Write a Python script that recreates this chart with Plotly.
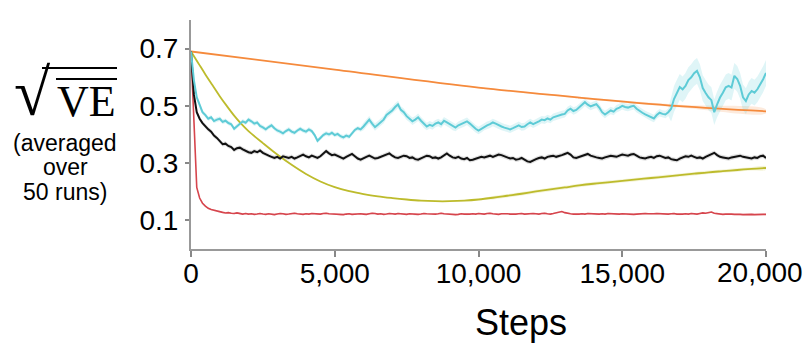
import plotly.graph_objects as go

# ---------------- data ----------------
steps = list(range(0, 20001, 100))

cyan_vals = [
    0.690, 0.590, 0.530, 0.500, 0.478, 0.468, 0.455, 0.460, 0.447, 0.452,
    0.455, 0.444, 0.448, 0.440, 0.436, 0.420, 0.428, 0.438, 0.446, 0.441,
    0.452, 0.446, 0.438, 0.442, 0.430, 0.425, 0.418, 0.426, 0.432, 0.422,
    0.414, 0.410, 0.404, 0.412, 0.418, 0.410, 0.406, 0.414, 0.420, 0.414,
    0.410, 0.418, 0.412, 0.398, 0.378, 0.388, 0.398, 0.404, 0.400, 0.406,
    0.398, 0.402, 0.394, 0.390, 0.396, 0.392, 0.404, 0.416, 0.422, 0.418,
    0.428, 0.440, 0.452, 0.438, 0.426, 0.434, 0.444, 0.452, 0.468, 0.476,
    0.484, 0.496, 0.505, 0.486, 0.478, 0.464, 0.456, 0.446, 0.452, 0.460,
    0.448, 0.436, 0.428, 0.434, 0.430, 0.438, 0.442, 0.436, 0.448, 0.442,
    0.436, 0.428, 0.424, 0.432, 0.436, 0.440, 0.446, 0.438, 0.428, 0.420,
    0.414, 0.420, 0.428, 0.432, 0.436, 0.442, 0.438, 0.432, 0.428, 0.424,
    0.422, 0.418, 0.422, 0.428, 0.432, 0.426, 0.428, 0.436, 0.442, 0.436,
    0.440, 0.446, 0.452, 0.450, 0.456, 0.452, 0.460, 0.464, 0.466, 0.470,
    0.472, 0.484, 0.490, 0.482, 0.486, 0.494, 0.502, 0.513, 0.504, 0.498,
    0.502, 0.506, 0.494, 0.478, 0.470, 0.478, 0.484, 0.480, 0.490, 0.494,
    0.500, 0.496, 0.494, 0.498, 0.500, 0.490, 0.482, 0.476, 0.470, 0.466,
    0.460, 0.456, 0.468, 0.476, 0.472, 0.470, 0.478, 0.490, 0.524, 0.546,
    0.566, 0.558, 0.570, 0.590, 0.600, 0.614, 0.622, 0.600, 0.562, 0.545,
    0.530, 0.520, 0.478, 0.505, 0.529, 0.546, 0.565, 0.570, 0.564, 0.605,
    0.594, 0.570, 0.530, 0.517, 0.540, 0.552, 0.546, 0.558, 0.575, 0.593,
    0.615,
]
cyan_err = [0.008] * 60 + [0.013] * 107 + [0.045] * 34

black_vals = [
    0.690, 0.540, 0.478, 0.455, 0.440, 0.428, 0.418, 0.410, 0.396, 0.388,
    0.378, 0.366, 0.368, 0.360, 0.356, 0.346, 0.352, 0.354, 0.348, 0.342,
    0.338, 0.336, 0.342, 0.338, 0.344, 0.336, 0.330, 0.326, 0.322, 0.318,
    0.322, 0.316, 0.324, 0.320, 0.318, 0.322, 0.316, 0.320, 0.326, 0.330,
    0.324, 0.320, 0.326, 0.322, 0.318, 0.324, 0.332, 0.342, 0.334, 0.328,
    0.330, 0.326, 0.320, 0.316, 0.322, 0.328, 0.332, 0.324, 0.316, 0.312,
    0.318, 0.322, 0.326, 0.320, 0.316, 0.318, 0.322, 0.326, 0.330, 0.334,
    0.326, 0.320, 0.318, 0.322, 0.326, 0.324, 0.318, 0.320, 0.314, 0.312,
    0.316, 0.322, 0.326, 0.324, 0.318, 0.320, 0.316, 0.320, 0.328, 0.334,
    0.326, 0.320, 0.318, 0.322, 0.316, 0.314, 0.318, 0.310, 0.312, 0.316,
    0.318, 0.322, 0.320, 0.324, 0.326, 0.322, 0.326, 0.330, 0.328, 0.324,
    0.320, 0.316, 0.318, 0.312, 0.314, 0.318, 0.312, 0.306, 0.304, 0.310,
    0.314, 0.318, 0.320, 0.316, 0.322, 0.324, 0.326, 0.322, 0.324, 0.328,
    0.332, 0.336, 0.330, 0.320, 0.318, 0.322, 0.326, 0.330, 0.332, 0.326,
    0.322, 0.320, 0.318, 0.316, 0.320, 0.322, 0.326, 0.324, 0.322, 0.326,
    0.330, 0.328, 0.326, 0.330, 0.332, 0.326, 0.320, 0.318, 0.316, 0.320,
    0.322, 0.318, 0.324, 0.326, 0.322, 0.318, 0.320, 0.314, 0.312, 0.310,
    0.316, 0.320, 0.324, 0.322, 0.326, 0.322, 0.318, 0.320, 0.316, 0.322,
    0.326, 0.330, 0.336, 0.328, 0.322, 0.320, 0.318, 0.316, 0.320, 0.322,
    0.324, 0.326, 0.322, 0.320, 0.318, 0.316, 0.320, 0.318, 0.324, 0.326,
    0.318,
]
black_err = [0.008] * 201

red_vals = [
    0.690, 0.420, 0.215, 0.178, 0.160, 0.150, 0.142, 0.138, 0.135, 0.132,
    0.130, 0.128, 0.126, 0.127, 0.125, 0.124, 0.126, 0.123, 0.122, 0.124,
    0.122, 0.123, 0.121, 0.122, 0.124, 0.122, 0.121, 0.123, 0.122, 0.120,
    0.122, 0.124, 0.123, 0.121, 0.122, 0.123, 0.125, 0.123, 0.122, 0.121,
    0.123, 0.122, 0.124, 0.123, 0.121, 0.122, 0.124, 0.125, 0.123, 0.122,
    0.121, 0.122, 0.119, 0.120, 0.122, 0.123, 0.121, 0.122, 0.124, 0.123,
    0.122, 0.121, 0.123, 0.125, 0.124, 0.122, 0.123, 0.121, 0.122, 0.124,
    0.123, 0.122, 0.124, 0.123, 0.122, 0.121, 0.123, 0.122, 0.120, 0.121,
    0.122, 0.124, 0.123, 0.122, 0.121, 0.122, 0.123, 0.125, 0.123, 0.122,
    0.121, 0.122, 0.120, 0.121, 0.123, 0.122, 0.121, 0.122, 0.123, 0.122,
    0.124, 0.123, 0.122, 0.124, 0.125, 0.123, 0.122, 0.121, 0.123, 0.124,
    0.123, 0.122, 0.121, 0.122, 0.123, 0.124, 0.122, 0.123, 0.125, 0.124,
    0.123, 0.122, 0.124, 0.125, 0.123, 0.122, 0.124, 0.126, 0.128, 0.131,
    0.127, 0.124, 0.123, 0.122, 0.121, 0.122, 0.123, 0.122, 0.124, 0.123,
    0.122, 0.121, 0.122, 0.123, 0.122, 0.124, 0.123, 0.122, 0.121, 0.122,
    0.123, 0.122, 0.121, 0.120, 0.121, 0.122, 0.123, 0.122, 0.124, 0.123,
    0.122, 0.123, 0.124, 0.123, 0.122, 0.121, 0.122, 0.123, 0.124, 0.122,
    0.121, 0.122, 0.123, 0.122, 0.124, 0.123, 0.122, 0.124, 0.126, 0.125,
    0.127, 0.129, 0.125, 0.123, 0.122, 0.121, 0.122, 0.123, 0.122, 0.121,
    0.122, 0.121, 0.120, 0.121, 0.122, 0.121, 0.120, 0.121, 0.122, 0.121,
    0.121,
]
red_err = [0.003] * 201

yellow_steps = [0, 250, 500, 750, 1000, 1250, 1500, 1750, 2000, 2500, 3000,
                3500, 4000, 4500, 5000, 5500, 6000, 6500, 7000, 7500, 8000,
                8500, 9000, 9500, 10000, 10500, 11000, 11500, 12000, 12500,
                13000, 13500, 14000, 14500, 15000, 15500, 16000, 16500, 17000,
                17500, 18000, 18500, 19000, 19500, 20000]
yellow_vals = [0.690, 0.650, 0.610, 0.572, 0.534, 0.499, 0.466, 0.437, 0.412,
               0.370, 0.330, 0.294, 0.262, 0.236, 0.216, 0.202, 0.192, 0.184,
               0.178, 0.173, 0.169, 0.167, 0.167, 0.169, 0.173, 0.179, 0.186,
               0.193, 0.201, 0.208, 0.215, 0.222, 0.228, 0.233, 0.238, 0.243,
               0.248, 0.253, 0.258, 0.263, 0.268, 0.272, 0.276, 0.280, 0.283]
yellow_err = [0.002] * 25 + [0.006] * 20

orange_steps = [0, 5000, 10000, 13500, 17000, 20000]
orange_vals = [0.690, 0.627, 0.564, 0.529, 0.499, 0.481]
orange_err = [0.001, 0.001, 0.002, 0.003, 0.005, 0.007]

x_ticks = [0, 5000, 10000, 15000, 20000]
x_ticktext = ["0", "5,000", "10,000", "15,000", ""]
last_x_label = "20,000"   # drawn right-aligned so it stays inside the page
y_ticks = [0.1, 0.3, 0.5, 0.7]
y_ticktext = ["0.1", "0.3", "0.5", "0.7"]

# ---------------- figure ----------------
W, H = 806, 347
L, R, T, B = 191, 40, 20, 98


def px2x(px):
    return (px - L) / (W - L - R)


def py2y(py):
    return (H - B - py) / (H - T - B)


fig = go.Figure()


def band(xs, ys, errs, fillcolor, shape="linear"):
    upper = [y + e for y, e in zip(ys, errs)]
    lower = [y - e for y, e in zip(ys, errs)]
    fig.add_trace(go.Scatter(x=xs + xs[::-1], y=upper + lower[::-1],
                             fill="toself", fillcolor=fillcolor,
                             line=dict(width=0, shape=shape), mode="lines",
                             hoverinfo="skip", showlegend=False))


band(orange_steps, orange_vals, orange_err, "rgba(245,140,60,0.18)", "spline")
band(yellow_steps, yellow_vals, yellow_err, "rgba(200,200,60,0.20)", "spline")
band(steps, cyan_vals, cyan_err, "rgba(94,203,214,0.20)")
band(steps, black_vals, black_err, "rgba(0,0,0,0.12)")
band(steps, red_vals, red_err, "rgba(214,69,77,0.15)")

fig.add_trace(go.Scatter(x=orange_steps, y=orange_vals, mode="lines",
                         line=dict(color="#F58A3C", width=1.8, shape="spline"),
                         showlegend=False))
fig.add_trace(go.Scatter(x=yellow_steps, y=yellow_vals, mode="lines",
                         line=dict(color="#BDBB2C", width=1.8, shape="spline"),
                         showlegend=False))
fig.add_trace(go.Scatter(x=steps, y=red_vals, mode="lines",
                         line=dict(color="#D6454D", width=1.6),
                         showlegend=False))
fig.add_trace(go.Scatter(x=steps, y=black_vals, mode="lines",
                         line=dict(color="#111111", width=2),
                         showlegend=False))
fig.add_trace(go.Scatter(x=steps, y=cyan_vals, mode="lines",
                         line=dict(color="#5ECBD6", width=2),
                         showlegend=False))

sans = "Liberation Sans, Arial, sans-serif"
serif = "Liberation Serif, Times New Roman, serif"
tickfont = dict(family=sans, size=28, color="#000000")

fig.update_layout(
    width=W, height=H,
    margin=dict(l=L, r=R, t=T, b=B, pad=0, autoexpand=False),
    paper_bgcolor="white", plot_bgcolor="white",
    showlegend=False,
    xaxis=dict(range=[0, 20000], tickvals=x_ticks, ticktext=x_ticktext,
               ticks="outside", ticklen=6, tickwidth=1.5, tickcolor="#888888",
               showline=True, linecolor="#999999", linewidth=2,
               showgrid=False, zeroline=False, tickfont=tickfont,
               ticklabelstandoff=-8, ticklabeloverflow="allow",
               automargin=False),
    yaxis=dict(range=[0, 0.8], tickvals=y_ticks, ticktext=y_ticktext,
               ticks="outside", ticklen=4, tickwidth=1.5, tickcolor="#888888",
               showline=True, linecolor="#999999", linewidth=2,
               showgrid=False, zeroline=False, tickfont=tickfont,
               ticklabelstandoff=1, automargin=False),
)

annotations = [
    dict(text=last_x_label, x=px2x(805), y=py2y(272), xanchor="right",
         font=dict(family=sans, size=28)),
    dict(text="Steps", x=px2x(521), y=py2y(322), font=dict(family=sans, size=36)),
    dict(text="√", x=px2x(32), y=py2y(93), font=dict(family=serif, size=66)),
    dict(text="VE", x=px2x(86), y=py2y(101), font=dict(family=serif, size=44)),
    dict(text="(averaged", x=px2x(65), y=py2y(143), font=dict(family=sans, size=23)),
    dict(text="over", x=px2x(65), y=py2y(167), font=dict(family=sans, size=23)),
    dict(text="50 runs)", x=px2x(65), y=py2y(192), font=dict(family=sans, size=23)),
]
for a in annotations:
    a.setdefault("xanchor", "center")
    a.update(xref="paper", yref="paper", showarrow=False, yanchor="middle")
    a["font"]["color"] = "#000000"
fig.update_layout(annotations=annotations)

# radical bar and overline over "VE"
fig.add_shape(type="line", xref="paper", yref="paper",
              x0=px2x(42), x1=px2x(117), y0=py2y(68), y1=py2y(68),
              line=dict(color="#000000", width=2))
fig.add_shape(type="line", xref="paper", yref="paper",
              x0=px2x(56), x1=px2x(117), y0=py2y(79), y1=py2y(79),
              line=dict(color="#000000", width=2))

fig.write_html("out.html")
